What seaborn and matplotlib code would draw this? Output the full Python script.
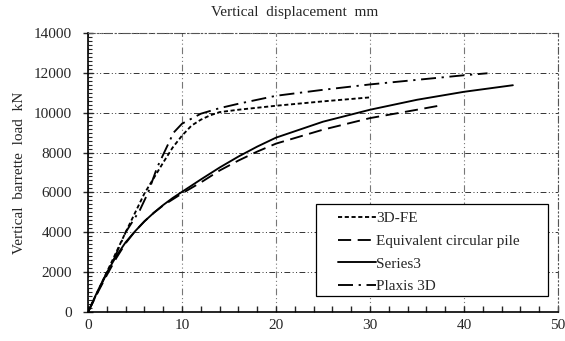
import numpy as np
import pandas as pd
import matplotlib
matplotlib.use("Agg")
import matplotlib.pyplot as plt
from matplotlib.patches import Rectangle
from matplotlib.ticker import MultipleLocator
import seaborn as sns

# Load-settlement data (displacement in mm, load in kN)
fe3d_x = [0, 2, 4, 6, 8, 9, 10, 11, 12, 13, 14, 16, 20, 25, 30]
fe3d_y = [0, 2000, 4000, 5950, 7500, 8250, 8850, 9350, 9650, 9870, 10030, 10150, 10350, 10570, 10770]

equiv_x = [0, 1, 2, 3, 4, 5, 6, 7, 8, 9, 10, 12, 14, 16, 18, 20, 25, 30, 35, 37.2]
equiv_y = [0, 950, 1850, 2700, 3450, 4050, 4550, 4980, 5350, 5650, 5950, 6500, 7100, 7600,
           8050, 8450, 9150, 9730, 10150, 10340]

series3_x = [0, 1, 2, 3, 4, 5, 6, 7, 8, 9, 10, 12, 14, 16, 18, 20, 25, 30, 35, 40, 45.2]
series3_y = [0, 1030, 1980, 2800, 3500, 4050, 4550, 4980, 5370, 5720, 6030, 6650, 7250, 7800,
             8300, 8750, 9550, 10150, 10650, 11050, 11380]

plaxis_x = [0, 2, 2.7, 4, 5.5, 6.4, 7.35, 7.9, 8.6, 9.1, 10, 12, 14, 16, 20, 25, 30, 35, 40, 42.5]
plaxis_y = [0, 1950, 2600, 4000, 5100, 6000, 7250, 7800, 8500, 9000, 9450, 9950, 10230, 10450,
            10850, 11150, 11420, 11650, 11880, 11980]

labels = ["3D-FE", "Equivalent circular pile", "Series3", "Plaxis 3D"]

sns.set_style("ticks")
plt.rcParams["font.family"] = ["Liberation Serif", "DejaVu Serif"]
plt.rcParams["font.size"] = 11

fig = plt.figure(figsize=(5.65, 3.41), dpi=100)
ax = fig.add_axes([0.1558, 0.0850, 0.8318, 0.8182])

styles = [
    dict(linestyle=(0, (2.2, 1.4)), linewidth=1.35),
    dict(linestyle=(0, (7, 3.5)), linewidth=1.35),
    dict(linestyle="-", linewidth=1.35),
    dict(linestyle=(0, (8, 3, 1.2, 3)), linewidth=1.35),
]
series = [(fe3d_x, fe3d_y), (equiv_x, equiv_y), (series3_x, series3_y), (plaxis_x, plaxis_y)]

for (xs, ys), lab, st in zip(series, labels, styles):
    df = pd.DataFrame({"x": xs, "y": ys})
    sns.lineplot(data=df, x="x", y="y", ax=ax, color="black", sort=False,
                 estimator=None, label=lab, legend=False, **st)

ax.set_xlim(0, 50)
ax.set_ylim(0, 14000)
ax.xaxis.set_major_locator(MultipleLocator(10))
ax.xaxis.set_minor_locator(MultipleLocator(2))
ax.yaxis.set_major_locator(MultipleLocator(2000))
ax.yaxis.set_minor_locator(MultipleLocator(200))

ax.tick_params(axis="x", which="major", direction="in", length=4, width=1, pad=5, labelsize=11)
ax.tick_params(axis="x", which="minor", direction="in", length=4, width=1)
ax.tick_params(axis="y", which="major", direction="inout", length=7, width=1, pad=8, labelsize=11)
ax.tick_params(axis="y", which="minor", direction="in", length=3, width=0.8)

grid_ls = (0, (6, 2.5, 1, 2.5, 1, 2.5))
ax.grid(True, which="major", axis="y", color="#333333", linestyle=grid_ls, linewidth=0.7)
ax.grid(True, which="major", axis="x", color="#777777", linestyle=grid_ls, linewidth=0.8)
ax.set_axisbelow(True)

for side in ("left", "bottom"):
    ax.spines[side].set_color("black")
    ax.spines[side].set_linewidth(1.2)
for side in ("top", "right"):
    ax.spines[side].set_linestyle(grid_ls)
    ax.spines[side].set_color("#555555")
    ax.spines[side].set_linewidth(0.8)

ax.set_xlabel("")
ax.set_ylabel("Vertical  barrette  load  kN", fontsize=11, labelpad=6)
fig.text(0.522, 0.962, "Vertical  displacement  mm", ha="center", va="center", fontsize=11)

# Legend box drawn as a separate frame so the inner padding can be set per side
frame = Rectangle((0.5593, 0.1320), 0.4106, 0.2698, transform=fig.transFigure,
                  fill=True, facecolor="white", edgecolor="black", linewidth=0.9,
                  zorder=4, clip_on=False)
ax.add_patch(frame)
leg = ax.legend(loc="upper left", bbox_to_anchor=(0.598, 0.379), bbox_transform=fig.transFigure,
                frameon=False, borderpad=0, borderaxespad=0, handlelength=2.5,
                handletextpad=0.0, labelspacing=0.58, fontsize=11)
leg.set_zorder(5)

fig.savefig("out.png", dpi=100)
